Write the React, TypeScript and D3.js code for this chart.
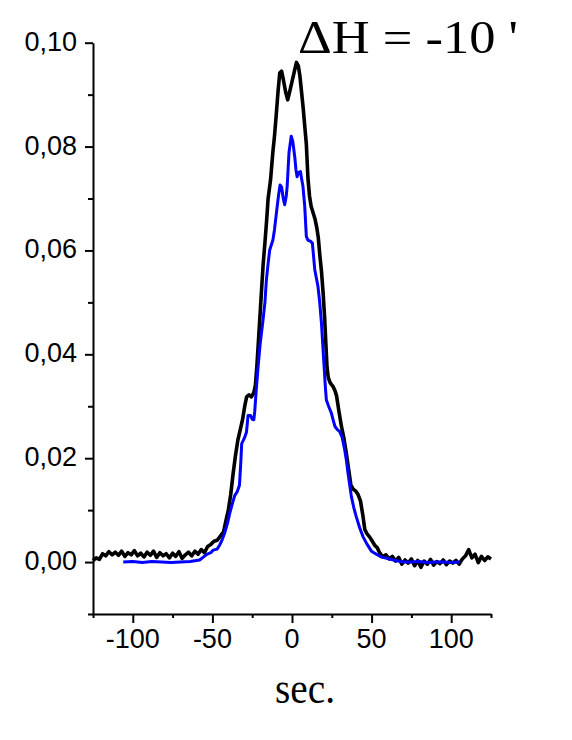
import React, { useEffect, useRef } from 'react';
import * as d3 from 'd3';

// black trace (time in sec., signal)
const blackTime = [
    -125, -123, -121, -119, -117, -115, -113, -111, -109, -107, -105, -103, -101, -99, -97, -95, -93, -91,
    -89, -87, -85, -83, -81, -79, -77, -75, -73, -71, -69, -67, -65, -63, -61, -59, -57, -55, -53, -51,
    -49, -47, -45, -43, -41.5, -40, -38.5, -37, -35.5, -34, -32.5, -31, -29.7, -28.5, -27, -25.5, -24, -23,
    -22, -21, -20, -19, -18.2, -17, -16, -15, -13.5, -12, -11, -9.8, -8.8, -7.7, -6.5, -5.5, -4, -2.7,
    -1.5, 0, 1.5, 2.8, 4, 5, 6, 7, 8, 9, 10, 11, 12, 13.5, 14.5, 15.5, 16.5, 17.5, 18.5, 19.5, 20.5, 21.2,
    22, 22.8, 24, 25.8, 27, 28, 29.5, 31, 32.5, 34, 35.5, 37, 38.5, 40, 41.5, 43, 44.5, 45.7, 47, 48.8,
    50.5, 52, 53.5, 55, 57, 59, 61, 63, 65, 67, 69, 71, 73, 75, 77, 79, 81, 83, 85, 87, 89, 91, 93, 95,
    97, 99, 101, 103, 105, 107, 109, 111, 113, 115, 117, 119, 121, 123, 125,
];
const blackValue = [
    0.0003, 0.0008, 0.0005, 0.0016, 0.0012, 0.0020, 0.0014, 0.0019, 0.0013, 0.0021, 0.0011, 0.0018, 0.0014,
    0.0022, 0.0012, 0.0017, 0.0010, 0.0019, 0.0013, 0.0021, 0.0009, 0.0018, 0.0012, 0.0016, 0.0008, 0.0017,
    0.0011, 0.0020, 0.0007, 0.0014, 0.0019, 0.0012, 0.0021, 0.0015, 0.0024, 0.0018, 0.0030, 0.0034,
    0.0040, 0.0042, 0.0050, 0.0058, 0.0080, 0.0100, 0.0130, 0.0170, 0.0205, 0.0235, 0.0255, 0.0275, 0.0300,
    0.0318, 0.0322, 0.0318, 0.0326, 0.0340, 0.0380, 0.0430, 0.0480, 0.0530, 0.0570, 0.0615, 0.0655, 0.0700,
    0.0735, 0.0790, 0.0820, 0.0865, 0.0905, 0.0942, 0.0945, 0.0930, 0.0905, 0.0890, 0.0905, 0.0925, 0.0945,
    0.0962, 0.0955, 0.0935, 0.0905, 0.0875, 0.0840, 0.0805, 0.0740, 0.0705, 0.0685, 0.0670, 0.0660, 0.0645,
    0.0625, 0.0590, 0.0560, 0.0520, 0.0470, 0.0425, 0.0375, 0.0355, 0.0345, 0.0338, 0.0330, 0.0320, 0.0290,
    0.0262, 0.0240, 0.0212, 0.0180, 0.0148, 0.0140, 0.0137, 0.0130, 0.0118, 0.0090, 0.0063, 0.0055, 0.0048,
    0.0040, 0.0032, 0.0028, 0.0018, 0.0010, 0.0014, 0.0006, 0.0011, 0.0002, 0.0009, -0.0004, 0.0004, -0.0002,
    0.0006, -0.0007, 0.0003, -0.0010, 0.0002, -0.0004, 0.0005, -0.0006, 0.0001, -0.0003, 0.0004, -0.0005,
    0.0002, -0.0002, 0.0003, -0.0004, 0.0006, 0.0012, 0.0024, 0.0008, 0.0015, -0.0001, 0.0011, 0.0003,
    0.0010, 0.0006,
];

// blue trace
const blueTime = [
    -106, -100, -94, -88, -82, -76, -70, -64, -58, -55.5, -53.5, -51, -49.5, -47, -45.4, -44, -42.3, -40.5,
    -39, -37.5, -36, -34.5, -33, -32.2, -31.6, -30, -28.6, -27.6, -26, -25, -24, -23.4, -22.5, -21.3, -20,
    -18.2, -17, -16.1, -15, -14, -12, -11, -9.8, -8.5, -7.5, -6.5, -5.5, -4.6, -3.6, -3, -1.9, -0.5, 0.5,
    1.7, 2.5, 3.2, 4.2, 5.3, 6.2, 6.9, 8, 9, 10, 11.5, 12.8, 14.3, 16.3, 17.4, 18.5, 19.9, 21, 21.6, 23,
    24.7, 26, 27, 28.5, 30, 31.5, 33.1, 34.2, 35.2, 37.3, 38.8, 40.4, 42.5, 44.6, 47, 49.9, 53, 56, 60, 65,
    70, 75, 80, 85, 90, 95, 100, 105.3,
];
const blueValue = [
    0.0000, 0.0001, -0.0001, 0.0001, 0.0000, -0.0001, 0.0000, 0.0001, 0.0004, 0.0010, 0.0015, 0.0018, 0.0023,
    0.0025, 0.0033, 0.0042, 0.0056, 0.0075, 0.0095, 0.0112, 0.0128, 0.0135, 0.0148, 0.0190, 0.0228, 0.0238,
    0.0250, 0.0282, 0.0282, 0.0275, 0.0274, 0.0290, 0.0330, 0.0376, 0.0420, 0.0466, 0.0500, 0.0543, 0.0575,
    0.0601, 0.0620, 0.0640, 0.0672, 0.0705, 0.0726, 0.0722, 0.0700, 0.0688, 0.0705, 0.0725, 0.0788, 0.0820,
    0.0810, 0.0781, 0.0755, 0.0742, 0.0750, 0.0752, 0.0735, 0.0723, 0.0685, 0.0627, 0.0620, 0.0618, 0.0614,
    0.0563, 0.0531, 0.0500, 0.0460, 0.0389, 0.0335, 0.0312, 0.0300, 0.0287, 0.0272, 0.0261, 0.0255, 0.0251,
    0.0240, 0.0216, 0.0195, 0.0171, 0.0126, 0.0105, 0.0087, 0.0066, 0.0049, 0.0035, 0.0021, 0.0015, 0.0010,
    0.0007, 0.0003, 0.0000, 0.0000, 0.0001, -0.0001, 0.0000, 0.0000, -0.0001, 0.0000,
];

const xMajor = [-100, -50, 0, 50, 100];
const xMinor = [-125, -75, -25, 25, 75, 125];
const yMajor = [0, 0.02, 0.04, 0.06, 0.08, 0.10];
const yMinor = [-0.01, 0.01, 0.03, 0.05, 0.07, 0.09];

const title = "\u0394H = -10 '";
const xTitle = 'sec.';

const W = 572;
const H = 740;

const App: React.FC = () => {
    const ref = useRef<SVGSVGElement>(null);

    useEffect(() => {
        const svg = d3.select(ref.current);
        svg.selectAll('*').remove();

        const x = d3.scaleLinear().domain([-125, 125]).range([93, 491]);
        const y = d3.scaleLinear().domain([-0.01, 0.10]).range([614, 42.7]);

        const sans = '"Liberation Sans", Arial, sans-serif';
        const serif = '"Liberation Serif", "Times New Roman", serif';

        // X axis
        const xAxis = svg.append('g').attr('transform', 'translate(0,614)');
        xAxis.call(d3.axisBottom(x).tickValues(xMajor).tickSize(9).tickSizeOuter(0).tickFormat(() => ''));
        xAxis.append('g').call(d3.axisBottom(x).tickValues(xMinor).tickSize(4).tickSizeOuter(0).tickFormat(() => ''))
            .select('.domain').remove();
        xAxis.selectAll('line').attr('stroke', '#000').attr('stroke-width', 2);
        xAxis.selectAll('.domain').attr('stroke', '#000').attr('stroke-width', 2);

        svg.append('g')
            .selectAll('text')
            .data(xMajor)
            .enter()
            .append('text')
            .attr('x', (d) => x(d))
            .attr('y', 648)
            .attr('text-anchor', 'middle')
            .attr('font-family', sans)
            .attr('font-size', 27)
            .text((d) => String(d));

        // Y axis
        const yAxis = svg.append('g').attr('transform', 'translate(93,0)');
        yAxis.call(d3.axisLeft(y).tickValues(yMajor).tickSize(8).tickSizeOuter(0).tickFormat(() => ''));
        yAxis.append('g').call(d3.axisLeft(y).tickValues(yMinor).tickSize(5).tickSizeOuter(0).tickFormat(() => ''))
            .select('.domain').remove();
        yAxis.selectAll('line').attr('stroke', '#000').attr('stroke-width', 2);
        yAxis.selectAll('.domain').attr('stroke', '#000').attr('stroke-width', 2);

        svg.append('g')
            .selectAll('text')
            .data(yMajor)
            .enter()
            .append('text')
            .attr('x', 77)
            .attr('y', (d) => y(d) + 8)
            .attr('text-anchor', 'end')
            .attr('font-family', sans)
            .attr('font-size', 27)
            .text((d) => d.toFixed(2).replace('.', ','));

        // Lines
        const line = d3.line<[number, number]>()
            .x((d) => x(d[0]))
            .y((d) => y(d[1]));

        const blackData = blackTime.map((t, i) => [t, blackValue[i]] as [number, number]);
        const blueData = blueTime.map((t, i) => [t, blueValue[i]] as [number, number]);

        svg.append('path')
            .datum(blackData)
            .attr('d', line)
            .attr('fill', 'none')
            .attr('stroke', '#000')
            .attr('stroke-width', 3.6)
            .attr('stroke-linejoin', 'round');

        svg.append('path')
            .datum(blueData)
            .attr('d', line)
            .attr('fill', 'none')
            .attr('stroke', '#0000ff')
            .attr('stroke-width', 3)
            .attr('stroke-linejoin', 'round');

        // Titles (glyphs stretched wide like the original)
        svg.append('text')
            .attr('x', 298)
            .attr('y', 53)
            .attr('font-family', serif)
            .attr('font-size', 46)
            .attr('textLength', 220)
            .attr('lengthAdjust', 'spacingAndGlyphs')
            .text(title);

        svg.append('text')
            .attr('x', 275)
            .attr('y', 703)
            .attr('font-family', serif)
            .attr('font-size', 44)
            .attr('textLength', 60)
            .attr('lengthAdjust', 'spacingAndGlyphs')
            .text(xTitle);
    }, []);

    return (
        <svg
            ref={ref}
            width={W}
            height={H}
            style={{ position: 'absolute', left: 0, top: 0, background: '#fff' }}
        />
    );
};

export default App;
